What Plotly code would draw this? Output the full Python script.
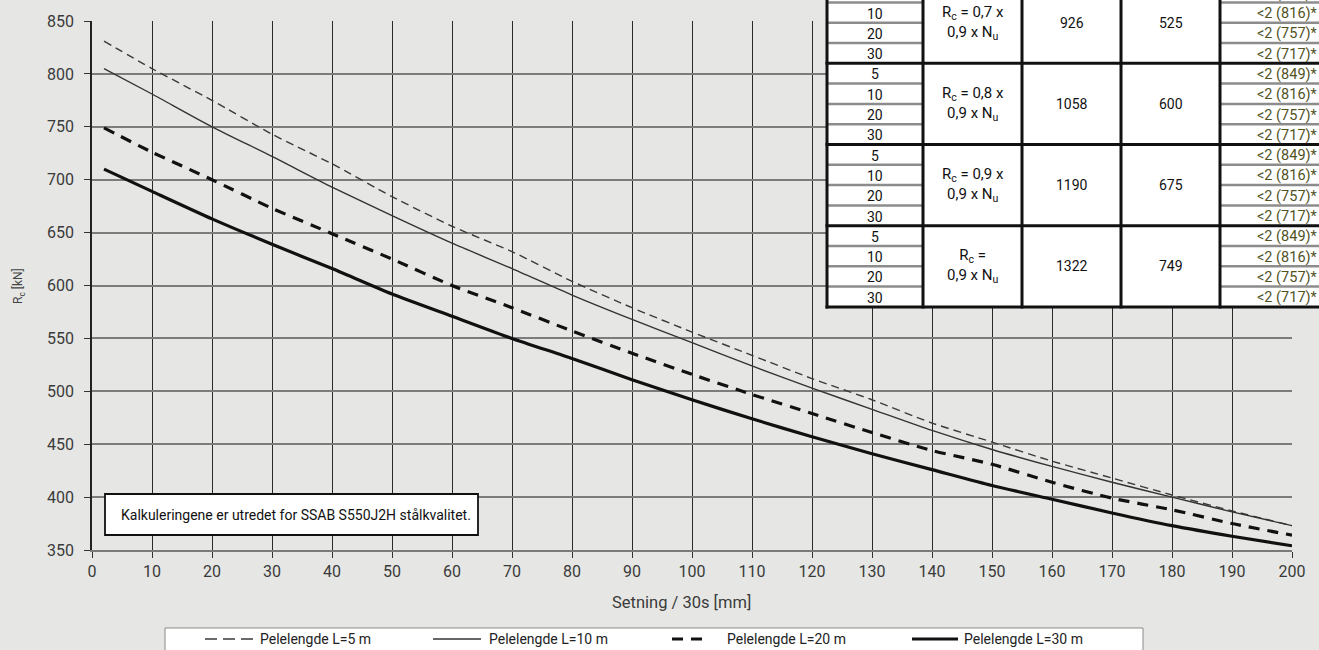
import plotly.graph_objects as go

# ---------------- data ----------------
setning = [2, 10, 20, 30, 40, 50, 60, 70, 80, 90, 100, 110, 120, 130, 140, 150, 160, 170, 180, 190, 200]
rc_L5 = [831, 805, 775, 743, 715, 684, 656, 632, 604, 579, 556, 534, 512, 492, 470, 452, 434, 418, 402, 387, 373]
rc_L10 = [805, 781, 750, 722, 693, 666, 640, 616, 591, 568, 546, 524, 503, 483, 463, 445, 429, 414, 400, 386, 373]
rc_L20 = [749, 726, 700, 673, 649, 625, 600, 579, 557, 536, 516, 497, 479, 461, 444, 431, 414, 399, 388, 375, 364]
rc_L30 = [710, 689, 663, 639, 616, 592, 571, 550, 531, 511, 492, 474, 457, 441, 426, 411, 398, 385, 373, 363, 354]

series_names = ["Pelelengde L=5 m", "Pelelengde L=10 m", "Pelelengde L=20 m", "Pelelengde L=30 m"]

x_ticks = list(range(0, 201, 10))
y_ticks = list(range(350, 851, 50))

# table
pile_lengths = [5, 10, 20, 30]
factor_labels = ["R<sub>c</sub> = 0,7 x<br>0,9 x N<sub>u</sub>",
                 "R<sub>c</sub> = 0,8 x<br>0,9 x N<sub>u</sub>",
                 "R<sub>c</sub> = 0,9 x<br>0,9 x N<sub>u</sub>",
                 "R<sub>c</sub> =<br>0,9 x N<sub>u</sub>"]
col_load = [926, 1058, 1190, 1322]
col_load2 = [525, 600, 675, 749]
col_blows = ["<2 (849)*", "<2 (816)*", "<2 (757)*", "<2 (717)*"]

note_text = "Kalkuleringene er utredet for SSAB S550J2H stålkvalitet."

# ---------------- figure ----------------
W, H = 1319, 650
ML, MR, MT, MB = 92, 27, 21, 100
PW, PH = W - ML - MR, H - MT - MB


def px(X):
    return (X - ML) / PW


def py(Y):
    return (H - MB - Y) / PH


BG = "#e6e7e4"
FONT = "Roboto"

fig = go.Figure()
styles = [
    dict(color="#3a3a3a", width=1.4, dash="8px,5px"),
    dict(color="#333333", width=1.4),
    dict(color="#111111", width=3.2, dash="11px,8px"),
    dict(color="#111111", width=3.2),
]
legend_dash = ["12px,6px", "solid", "11px,8px", "solid"]
for name, ys, st in zip(series_names, [rc_L5, rc_L10, rc_L20, rc_L30], styles):
    fig.add_trace(go.Scatter(x=setning, y=ys, mode="lines", name=name, showlegend=False,
                             line=dict(shape="spline", smoothing=0.6, **st)))

shapes = []
annotations = []

# note box
shapes.append(dict(type="rect", xref="paper", yref="paper", x0=px(105), x1=px(478), y0=py(535), y1=py(494),
                   line=dict(color="#111111", width=1.8), fillcolor="white", layer="above"))
annotations.append(dict(xref="paper", yref="paper", x=px(119), y=py(514.5), xanchor="left", yanchor="middle",
                        text=note_text, showarrow=False, font=dict(family=FONT, size=14, color="#111111")))

# table
TX = [827, 923, 1022, 1121, 1220, 1330]
row_h = 20.3
g_top0 = 63.3 - 4 * row_h
shapes.append(dict(type="rect", xref="paper", yref="paper", x0=px(TX[0]), x1=px(TX[-1]), y0=py(g_top0 + 16 * row_h), y1=py(-30),
                   line=dict(width=0), fillcolor="white", layer="above"))
for gi in range(4):
    gt = g_top0 + gi * 4 * row_h
    for ri in range(1, 4):
        yy = gt + ri * row_h
        for xa, xb in [(TX[0], TX[1]), (TX[4], TX[5])]:
            shapes.append(dict(type="line", xref="paper", yref="paper", x0=px(xa), x1=px(xb), y0=py(yy), y1=py(yy),
                               line=dict(color="#8c8c8c", width=2.5), layer="above"))
    for ri in range(4):
        yc = gt + (ri + 0.5) * row_h + 1
        annotations.append(dict(xref="paper", yref="paper", x=px((TX[0] + TX[1]) / 2), y=py(yc), text=str(pile_lengths[ri]),
                                showarrow=False, xanchor="center", yanchor="middle",
                                font=dict(family=FONT, size=14, color="#111111")))
        annotations.append(dict(xref="paper", yref="paper", x=px(1320), y=py(yc), text=col_blows[ri],
                                showarrow=False, xanchor="right", yanchor="middle",
                                font=dict(family=FONT, size=14.5, color="#52521f")))
    gc = gt + 2 * row_h
    annotations.append(dict(xref="paper", yref="paper", x=px((TX[1] + TX[2]) / 2), y=py(gc), text=factor_labels[gi],
                            showarrow=False, xanchor="center", yanchor="middle", align="center",
                            font=dict(family=FONT, size=15, color="#111111")))
    annotations.append(dict(xref="paper", yref="paper", x=px((TX[2] + TX[3]) / 2), y=py(gc), text=str(col_load[gi]),
                            showarrow=False, xanchor="center", yanchor="middle",
                            font=dict(family=FONT, size=14, color="#111111")))
    annotations.append(dict(xref="paper", yref="paper", x=px((TX[3] + TX[4]) / 2), y=py(gc), text=str(col_load2[gi]),
                            showarrow=False, xanchor="center", yanchor="middle",
                            font=dict(family=FONT, size=14, color="#111111")))
    yb = gt + 4 * row_h
    shapes.append(dict(type="line", xref="paper", yref="paper", x0=px(TX[0] - 1.5), x1=px(TX[-1]), y0=py(yb), y1=py(yb),
                       line=dict(color="#111111", width=3), layer="above"))
for xx in TX[:-1]:
    shapes.append(dict(type="line", xref="paper", yref="paper", x0=px(xx), x1=px(xx), y0=py(g_top0 + 16 * row_h + 1.5), y1=py(-30),
                       line=dict(color="#111111", width=3), layer="above"))

# legend (drawn as a box at the bottom, partly below the page edge as in the source)
LEG_Y = 639
shapes.append(dict(type="rect", xref="paper", yref="paper", x0=px(165), x1=px(1143), y0=py(665), y1=py(628),
                   line=dict(color="#8a8a8a", width=1), fillcolor="white", layer="above"))
legend_sym = [(205, 253), (433, 481), (672, 702), (912, 958)]
legend_txt_x = [258, 487, 725, 962]
for (xa, xb), tx, name, st, dsh in zip(legend_sym, legend_txt_x, series_names, styles, legend_dash):
    shapes.append(dict(type="line", xref="paper", yref="paper", x0=px(xa), x1=px(xb), y0=py(LEG_Y), y1=py(LEG_Y),
                       line=dict(color=st["color"], width=st["width"], dash=dsh), layer="above"))
    annotations.append(dict(xref="paper", yref="paper", x=px(tx), y=py(LEG_Y), text=name, showarrow=False,
                            xanchor="left", yanchor="middle", font=dict(family=FONT, size=14, color="#222222")))

# axis titles
annotations.append(dict(xref="paper", yref="paper", x=px(681), y=py(602), text="Setning / 30s [mm]", showarrow=False,
                        xanchor="center", yanchor="middle", font=dict(family=FONT, size=16.5, color="#3a3a3a")))
annotations.append(dict(xref="paper", yref="paper", x=px(19), y=py(286), text="R<sub>c</sub> [kN]", showarrow=False,
                        xanchor="center", yanchor="middle", textangle=-90, font=dict(family=FONT, size=12, color="#444444")))

fig.update_layout(
    width=W, height=H,
    margin=dict(l=ML, r=MR, t=MT, b=MB),
    paper_bgcolor=BG, plot_bgcolor=BG,
    font=dict(family=FONT, size=16, color="#3a3a3a"),
    showlegend=False,
    xaxis=dict(range=[0, 200], tickvals=x_ticks, showgrid=True, gridcolor="#2a2a2a", gridwidth=1,
               zeroline=False, showline=True, linecolor="#7a7a7a", linewidth=2,
               ticks="outside", ticklen=6, tickcolor="#333333", ticklabelstandoff=0,
               tickfont=dict(size=16, color="#3a3a3a")),
    yaxis=dict(range=[350, 850], tickvals=y_ticks, showgrid=True, gridcolor="#7c7c7c", gridwidth=2,
               zeroline=False, showline=True, linecolor="#222222", linewidth=1.5,
               ticks="outside", ticklen=6, tickcolor="#333333", ticklabelstandoff=7,
               tickfont=dict(size=16, color="#3a3a3a")),
    shapes=shapes,
    annotations=annotations,
)

fig.write_html("out.html", config={"displayModeBar": False},
               post_script="document.body.style.margin='0';document.body.style.overflow='hidden';")
